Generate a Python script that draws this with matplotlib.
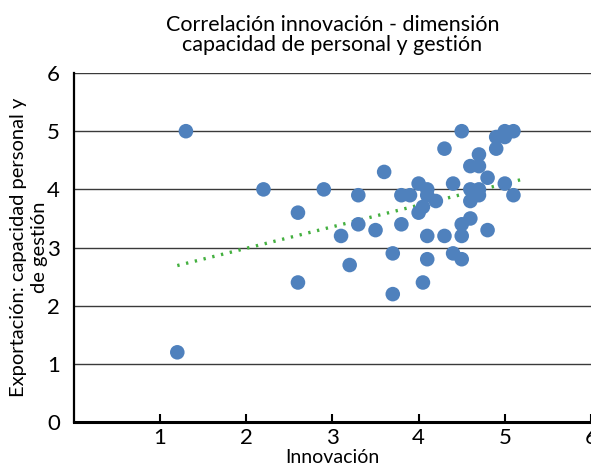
import numpy as np
import matplotlib
matplotlib.use("Agg")
import matplotlib.pyplot as plt

# Innovación (x) vs Exportación: capacidad personal y de gestión (y)
innovacion = [1.2, 1.3, 2.2, 2.6, 2.6, 2.9, 3.1, 3.2, 3.3, 3.3, 3.5, 3.6, 3.7, 3.7,
              3.8, 3.8, 3.9, 4.0, 4.0, 4.05, 4.05, 4.1, 4.1, 4.1, 4.1, 4.2, 4.3, 4.3,
              4.4, 4.4, 4.5, 4.5, 4.5, 4.5, 4.6, 4.6, 4.6, 4.6, 4.7, 4.7, 4.7, 4.7,
              4.8, 4.8, 4.9, 4.9, 5.0, 5.0, 5.0, 5.1, 5.1]
exportacion = [1.2, 5.0, 4.0, 3.6, 2.4, 4.0, 3.2, 2.7, 3.9, 3.4, 3.3, 4.3, 2.9, 2.2,
               3.9, 3.4, 3.9, 4.1, 3.6, 3.7, 2.4, 4.0, 3.9, 3.2, 2.8, 3.8, 4.7, 3.2,
               4.1, 2.9, 5.0, 3.4, 3.2, 2.8, 4.4, 4.0, 3.8, 3.5, 4.6, 4.4, 4.0, 3.9,
               4.2, 3.3, 4.9, 4.7, 5.0, 4.9, 4.1, 5.0, 3.9]

titulo = "Correlación innovación - dimensión\ncapacidad de personal y gestión"
etiqueta_x = "Innovación"
etiqueta_y = "Exportación: capacidad personal y\nde gestión"

plt.rcParams['font.family'] = ['Lato', 'DejaVu Sans']

fig = plt.figure(figsize=(5.91, 4.68), dpi=100)
ax = fig.add_axes([0.125, 0.098, 0.875, 0.746])

x = np.array(innovacion)
y = np.array(exportacion)

ax.set_xlim(0, 6)
ax.set_ylim(0, 6)
ax.set_yticks(range(0, 7))
ax.set_xticks(range(1, 7))

for v in range(1, 7):
    ax.axhline(v, color='#3a3a3a', lw=1.0, zorder=1)

ax.scatter(x, y, s=110, color='#4F81BD', edgecolors='none', zorder=3)

# linear trendline
m, b = np.polyfit(x, y, 1)
xs = np.array([x.min(), x.max() + 0.1])
ax.plot(xs, m * xs + b, color='#44B040', lw=2.4, ls=(0, (0.7, 2.0)), zorder=2)

for s in ['top', 'right']:
    ax.spines[s].set_visible(False)
ax.spines['left'].set_linewidth(1.6)
ax.spines['bottom'].set_linewidth(2.2)
ax.spines['left'].set_color('black')
ax.spines['bottom'].set_color('black')

ax.tick_params(axis='x', direction='in', length=6, width=1.5, labelsize=16, pad=4)
ax.tick_params(axis='y', length=0, labelsize=16, pad=10)

ax.set_title(titulo, fontsize=15.5, pad=16, linespacing=1.0)
ax.set_xlabel(etiqueta_x, fontsize=14, labelpad=1)
ax.set_ylabel(etiqueta_y, fontsize=14.5, labelpad=-1, linespacing=1.3)

fig.savefig("out.png", dpi=100)
